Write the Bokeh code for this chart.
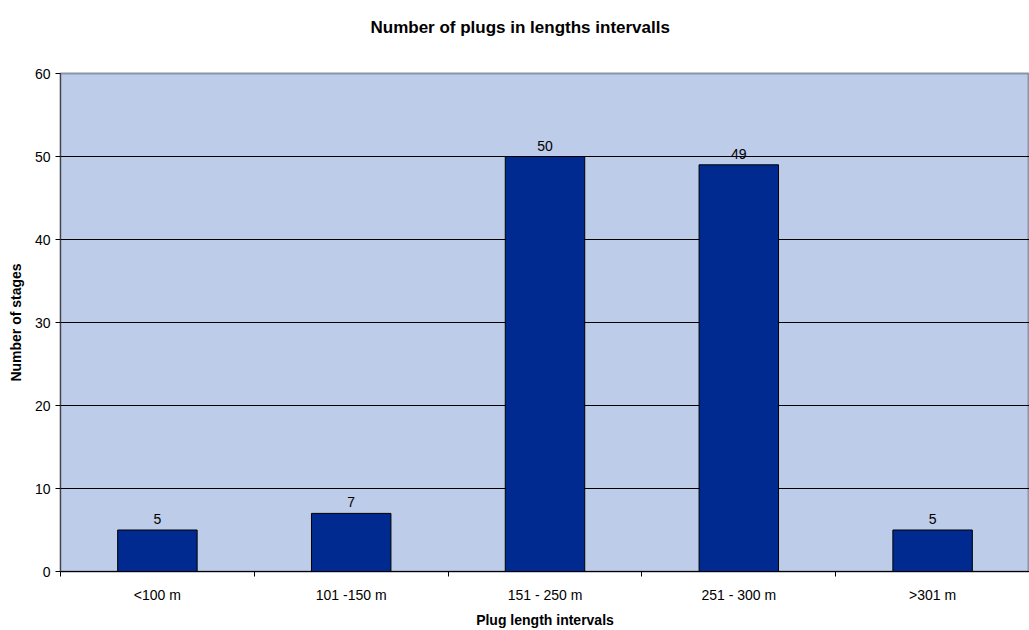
from bokeh.plotting import figure
from bokeh.models import FixedTicker, ColumnDataSource, Range1d, LabelSet, Title
from bokeh.core.properties import value
from bokeh.embed import file_html
from bokeh.resources import INLINE

title_text = "Number of plugs in lengths intervalls"
categories = ["<100 m", "101 -150 m", "151 - 250 m", "251 - 300 m", ">301 m"]
counts = [5, 7, 50, 49, 5]
y_ticks = [0, 10, 20, 30, 40, 50, 60]

centers = [i + 0.5 for i in range(len(categories))]
src = ColumnDataSource(dict(x=centers, top=counts, lab=[str(c) for c in counts]))

FONT = "Liberation Sans"

p = figure(width=1029, height=630, output_backend="svg", toolbar_location=None,
           x_range=Range1d(0, len(categories)), y_range=Range1d(0, 60),
           title=title_text)
p.min_border_left = 60
p.min_border_right = 0
p.min_border_top = 73
p.min_border_bottom = 55
p.border_fill_color = "white"
p.background_fill_color = "#bccce9"

p.title.text_font = FONT
p.title.text_font_size = "17px"
p.title.text_font_style = "bold"
p.title.text_color = "black"
p.title.align = "left"
p.title.offset = 310
p.title.standoff = 8

# blank spacer strip between the title and the plot area
spacer = Title(text=" ", text_font=FONT, text_font_size="13px",
               text_color="white", standoff=16)
p.add_layout(spacer, "above")

p.outline_line_color = "#8a94a6"
p.outline_line_width = 2

p.vbar(x="x", top="top", width=0.41, source=src, fill_color="#002a8f",
       line_color="black", line_width=1)

labels = LabelSet(x="x", y="top", text="lab", source=src, y_offset=6,
                  text_align="center", text_baseline="bottom",
                  text_font=value(FONT), text_font_size="14px", text_color="black")
p.add_layout(labels)

# x axis
p.xaxis.ticker = FixedTicker(ticks=centers, minor_ticks=list(range(len(categories) + 1)))
p.xaxis.major_label_overrides = {c: lab for c, lab in zip(centers, categories)}
p.xaxis.major_tick_line_color = None
p.xaxis.minor_tick_in = 0
p.xaxis.minor_tick_out = 5
p.xaxis.minor_tick_line_color = "black"
p.xaxis.axis_line_color = "black"
p.xaxis.major_label_text_font = FONT
p.xaxis.major_label_text_font_size = "14px"
p.xaxis.major_label_text_color = "black"
p.xaxis.major_label_standoff = 9
p.xaxis.axis_label = "Plug length intervals"
p.xaxis.axis_label_text_font = FONT
p.xaxis.axis_label_text_font_size = "14px"
p.xaxis.axis_label_text_font_style = "bold"
p.xaxis.axis_label_text_color = "black"
p.xaxis.axis_label_standoff = 6

# y axis
p.yaxis.ticker = FixedTicker(ticks=y_ticks)
p.yaxis.minor_tick_line_color = None
p.yaxis.major_tick_in = 0
p.yaxis.major_tick_out = 5
p.yaxis.axis_line_color = "#444444"
p.yaxis.major_label_text_font = FONT
p.yaxis.major_label_text_font_size = "14px"
p.yaxis.major_label_text_color = "black"
p.yaxis.major_label_standoff = 5
p.yaxis.axis_label = "Number of stages"
p.yaxis.axis_label_text_font = FONT
p.yaxis.axis_label_text_font_size = "14px"
p.yaxis.axis_label_text_font_style = "bold"
p.yaxis.axis_label_text_color = "black"
p.yaxis.axis_label_standoff = 8

p.xgrid.grid_line_color = None
p.ygrid.grid_line_color = "black"
p.ygrid.grid_line_width = 1
p.ygrid.grid_line_alpha = 1.0

open("out.html", "w").write(file_html(p, INLINE))
